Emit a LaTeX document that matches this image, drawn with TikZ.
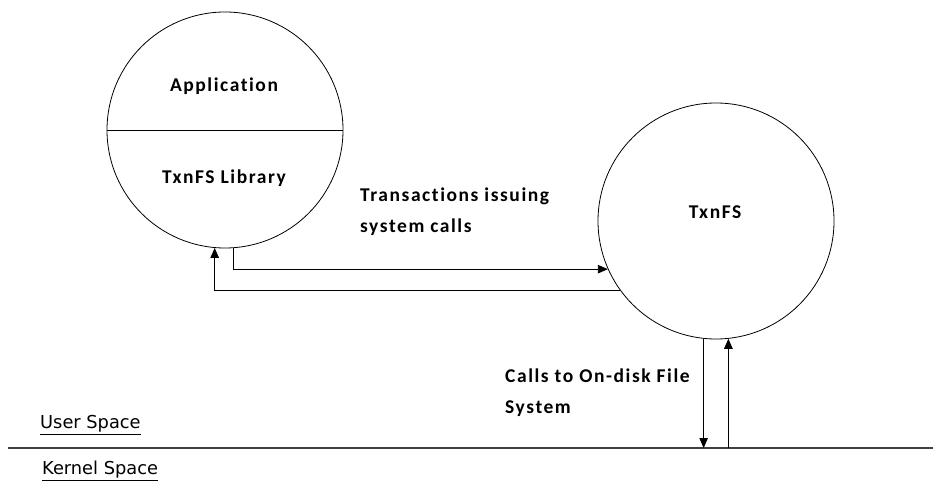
\documentclass[tikz,border=0pt]{standalone}
\usepackage{fontspec}
\setmainfont{Carlito}[Ligatures=NoCommon, LetterSpace=8]
\newfontfamily\spacefont{DejaVu Sans}
\usetikzlibrary{arrows.meta,positioning,calc}
\tikzset{
    proc/.style={
        circle,
        draw=black,
        line width=0.8pt,
        minimum size=236pt,
        inner sep=0pt
    },
    lbl/.style={
        font=\bfseries\fontsize{19.5}{31}\selectfont,
        align=left,
        inner sep=0pt
    },
    spacelbl/.style={
        font=\spacefont\fontsize{17.8}{20}\selectfont,
        anchor=west,
        inner sep=0pt
    },
    flow/.style={
        -{Triangle[length=10pt,width=8.5pt]},
        line width=0.9pt
    }
}

\begin{document}
\begin{tikzpicture}[x=1pt, y=-1pt]

    \useasboundingbox (0,0) rectangle (933,486);

    % Circulos
    \node[proc] (app) at (225,130) {};
    \node[proc] (txn) at (716,221) {};
    \draw[line width=0.8pt] (app.west) -- (app.east);

    % Textos dentro dos circulos
    \node[lbl] (apptxt) at (224,86) {Application};
    \node[lbl] (libtxt) at (224,178) {TxnFS Library};
    \node[lbl] (txntxt) at (715,212) {TxnFS};

    % Linha entre user e kernel
    \coordinate (kl) at (8,448);
    \coordinate (kr) at (933,448);
    \draw[line width=1.6pt, black!75] (kl) -- (kr);
    \node[spacelbl] (user) at (40,425) {\underline{User Space}};
    \node[spacelbl] (kernel) at (42,471) {\underline{Kernel Space}};

    % Legendas das chamadas
    \node[lbl, anchor=west] (trans) at (360,212) {Transactions issuing\\system calls};
    \node[lbl, anchor=west] (calls) at (505,393) {Calls to On-disk File\\System};

    % Chamadas entre biblioteca e TxnFS
    \draw[flow] (app.-86) |- (txn.204.5);
    \draw[flow] (txn.216.4) -| (app.-95.3);

    % Chamadas ao sistema de arquivos
    \draw[flow] (txn.-96.3) -- (txn.-96.3 |- kl);
    \draw[flow] (txn.-84.2 |- kl) -- (txn.-84.2);

\end{tikzpicture}
\end{document}
